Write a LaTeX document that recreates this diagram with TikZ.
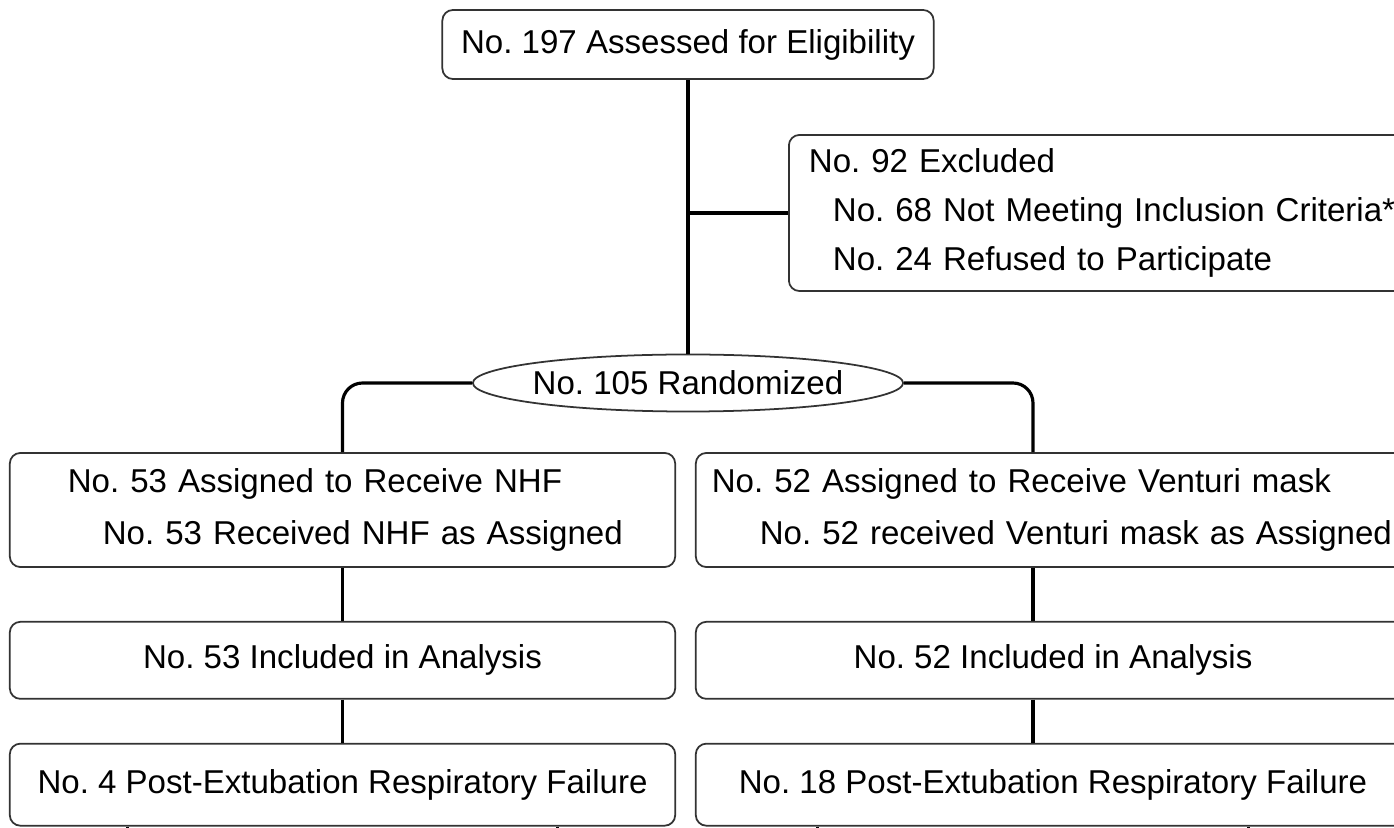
\documentclass[tikz,border=0pt]{standalone}
\usepackage{fontspec}
\setmainfont{Liberation Sans}
\usetikzlibrary{positioning,shapes.geometric}
\frenchspacing
\hyphenpenalty=10000

\begin{document}
\begin{tikzpicture}[
x=0.01cm, y=-0.01cm,
box/.style={
	draw=black!80, line width=0.5pt,
	rectangle, rounded corners=3pt,
	inner sep=0pt, text=black,
	font=\fontsize{9.4}{13.9}\selectfont
},
leftbox/.style={box, minimum width=6.65cm},
rightbox/.style={box, minimum width=7.14cm},
link/.style={line width=0.9pt, black}
]
\clip (0,0) rectangle (1394,828);
\node[box, minimum width=4.91cm, minimum height=0.69cm] (elig) at (688,44.5) {No. 197 Assessed for Eligibility};
\node[box, anchor=west, minimum height=1.56cm, inner xsep=0.2cm, text width=6.2cm, align=left] (excl) at (788,213)
	{No. 92 Excluded\\
	\hspace*{0.24cm}No. 68 Not Meeting Inclusion Criteria*\\
	\hspace*{0.24cm}No. 24 Refused to Participate};
\node[box, ellipse, rounded corners=0pt, inner xsep=-0.04cm, minimum width=4.3cm, minimum height=0.57cm] (rand) at (688,383) {No. 105 Randomized};
\node[leftbox, minimum height=1.14cm, inner xsep=0.1cm, text width=6.45cm, align=left] (assignL) at (342.5,510)
	{\hspace*{0.48cm}No. 53 Assigned to Receive NHF\\[0.03cm]
	\hspace*{0.83cm}No. 53 Received NHF as Assigned};
\node[rightbox, minimum height=1.14cm, inner xsep=0.1cm, text width=6.94cm, align=left] (assignR) at (1053,510)
	{\hspace*{0.06cm}No. 52 Assigned to Receive Venturi mask\\[0.03cm]
	\hspace*{0.54cm}No. 52 received Venturi mask as Assigned};
\node[leftbox, minimum height=0.77cm, below=0.53cm of assignL] (inclL) {No. 53 Included in Analysis};
\node[rightbox, minimum height=0.77cm, below=0.53cm of assignR] (inclR) {No. 52 Included in Analysis};
\node[leftbox, minimum height=0.82cm, below=0.43cm of inclL] (failL) {No. 4 Post-Extubation Respiratory Failure};
\node[rightbox, minimum height=0.82cm, below=0.43cm of inclR] (failR) {No. 18 Post-Extubation Respiratory Failure};
\draw[link] (elig) -- (rand);
\draw[link] (elig.south |- excl.west) -- (excl.west);
\draw[link, rounded corners=0.2cm] (rand.west) -| (assignL.north);
\draw[link, rounded corners=0.2cm] (rand.east) -| ([xshift=-0.2cm]assignR.north);
\draw[link] (assignL) -- (inclL);
\draw[link] (inclL) -- (failL);
\draw[link] ([xshift=-0.2cm]assignR.south) -- ([xshift=-0.2cm]inclR.north);
\draw[link] ([xshift=-0.2cm]inclR.south) -- ([xshift=-0.2cm]failR.north);
\foreach \s [count=\k] in {-2.15,2.15}
{
	\coordinate (outL\k) at ([xshift=\s cm, yshift=-0.1cm]failL.south);
	\draw[link] ([xshift=\s cm]failL.south) -- (outL\k);
}
\foreach \s [count=\k] in {-2.35,1.95}
{
	\coordinate (outR\k) at ([xshift=\s cm, yshift=-0.1cm]failR.south);
	\draw[link] ([xshift=\s cm]failR.south) -- (outR\k);
}
\end{tikzpicture}
\end{document}
